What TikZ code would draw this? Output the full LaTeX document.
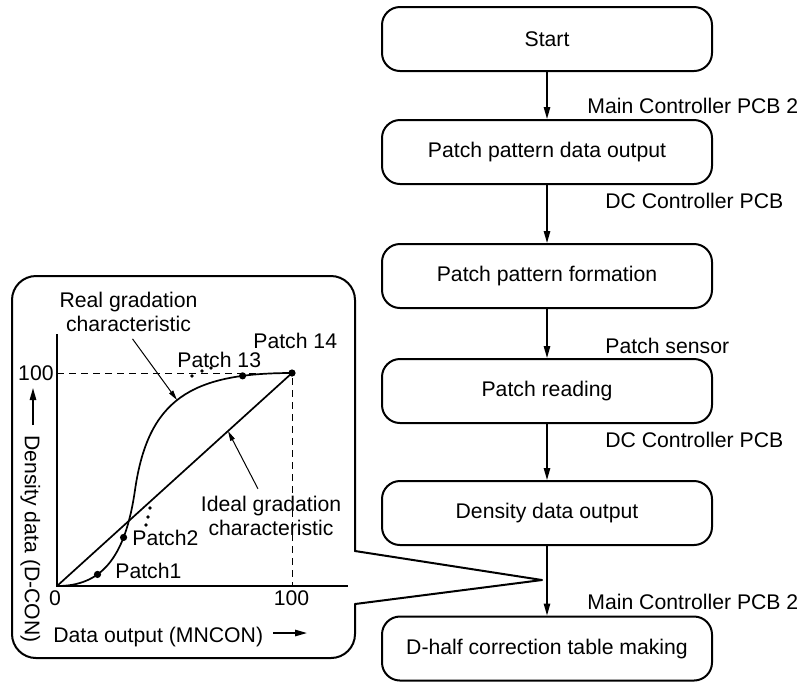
\documentclass[tikz,border=0pt]{standalone}
\usepackage{fontspec}
\setmainfont{Liberation Sans}
\usetikzlibrary{arrows.meta}
\newcommand{\diagfont}{\fontsize{10.6}{12}\selectfont}
\tikzset{
  stepbox/.style={draw,line width=1pt,rounded corners=9pt,
    minimum width=165pt,minimum height=32pt},
  flow/.style={line width=0.75pt,-{Triangle[length=6pt,width=3.2pt]}},
  leader/.style={line width=0.5pt,-{Triangle[length=5pt,width=2.4pt]}},
  lbl/.style={anchor=base west,inner sep=0pt},
  txt/.style={align=center},
  frame/.style={line width=1pt,line cap=round,line join=round},
  axis/.style={line width=1pt},
  curve/.style={line width=0.85pt},
  guide/.style={line width=0.5pt,dash pattern=on 3.5pt off 2.5pt},
  dot/.style={circle,fill,inner sep=0pt,minimum size=3.6pt}
}
\begin{document}
\begin{tikzpicture}[x=0.5pt,y=-0.5pt,font=\diagfont]
\useasboundingbox (0,0) rectangle (801,682);
% flow of the correction
\node[stepbox] (start) at (547,39) {Start};
\node[stepbox] (pdout) at (547,152) {Patch pattern data output};
\node[stepbox] (pform) at (547,276) {Patch pattern formation};
\node[stepbox] (pread) at (547,391) {Patch reading};
\node[stepbox] (dout) at (547,513) {Density data output};
\node[stepbox] (dhalf) at (547,648.5) {D-half correction table making};
\draw[flow] (start) -- (pdout);
\draw[flow] (pdout) -- (pform);
\draw[flow] (pform) -- (pread);
\draw[flow] (pread) -- (dout);
\draw[flow] (dout) -- (dhalf);
\node[lbl] (pcba) at (587,113) {Main Controller PCB 2};
\node[lbl] (dca) at (605,208) {DC Controller PCB};
\node[lbl] (sens) at (605,353) {Patch sensor};
\node[lbl] (dcb) at (605,447) {DC Controller PCB};
\node[lbl] (pcbb) at (587,609) {Main Controller PCB 2};
% callout with the graph
\coordinate (tip) at (542,580);
\draw[frame,rounded corners=12pt] (355,551) -- (355,276) -- (12,276)
  -- (12,658) -- (355,658) -- (355,604);
\draw[frame] (355,551) -- (tip) -- (355,604);
\coordinate (o) at (57,586);
\coordinate (c14) at (292,373);
\draw[axis] (57,334) -- (o) -- (348,586);
\draw[guide] (57,373) -- (c14) -- (292,586);
\draw[curve] (o) -- (c14);
\draw[curve] (o) .. controls (100,586) and (125,560) .. (135,490)
  node[dot,pos=.37] (p1) {} node[dot,pos=.73] (p2) {}
  .. controls (148,400) and (190,373) .. (c14) node[dot,pos=.82] (p13) {};
\node[dot] (p14) at (c14) {};
\foreach \x/\y in {192/376,202/371,211/368,150/508,148/517,146/525}
  \fill (\x,\y) circle (0.9pt);
\node[lbl] (l14) at (253,348) {Patch 14};
\node[lbl] (l13) at (177,367) {Patch 13};
\node[lbl] (l2) at (132,545) {Patch2};
\node[lbl] (l1) at (115,578) {Patch1};
\node[txt] (real) at (128.5,312) {Real gradation\\characteristic};
\node[txt] (ideal) at (271,515.7) {Ideal gradation\\characteristic};
\draw[leader] ([xshift=2pt]real.south) -- (177,400);
\draw[leader] ([xshift=-6.5pt]ideal.north) -- (228,431);
\node[anchor=base east,inner sep=0pt] (y100) at (54,380) {100};
\node[anchor=base,inner sep=0pt] (x0) at (55,605) {0};
\node[anchor=base,inner sep=0pt] (x100) at (291.5,605) {100};
\node[lbl] (xlab) at (53,642) {Data output (MNCON)};
\draw[flow] (273,633) -- (307,633);
\node[lbl,rotate=-90] (ylab) at (25,435) {Density data (D-CON)};
\draw[flow] (33,425) -- (33,388);
\end{tikzpicture}
\end{document}
